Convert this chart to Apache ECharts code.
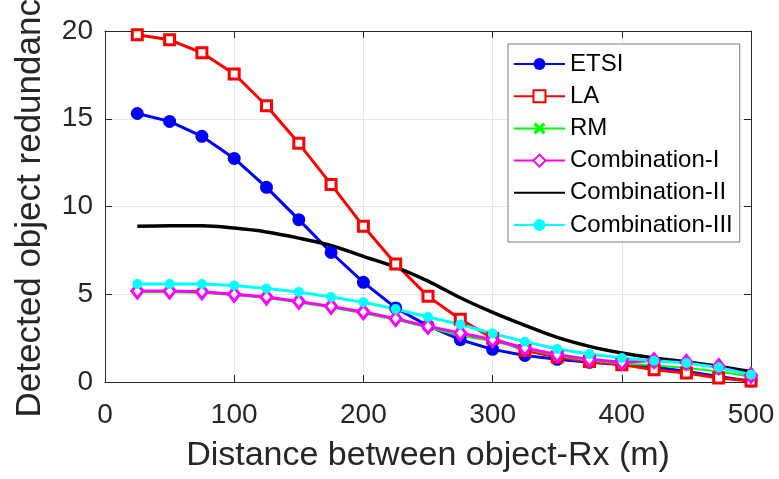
<!DOCTYPE html>
<html>
<head>
<meta charset="utf-8">
<script src="https://cdn.jsdelivr.net/npm/echarts@6/dist/echarts.min.js"></script>
<style>html,body{margin:0;padding:0;background:#fff;}#c{width:779px;height:479px;}</style>
</head>
<body>
<div id="c"></div>
<script>
var distances = [25, 50, 75, 100, 125, 150, 175, 200, 225, 250, 275, 300, 325, 350, 375, 400, 425, 450, 475, 500];
var etsi   = [15.3, 14.85, 14.0, 12.74, 11.09, 9.25, 7.38, 5.68, 4.22, 3.2, 2.41, 1.86, 1.51, 1.29, 1.12, 1.0, 0.85, 0.6, 0.32, 0.05];
var la     = [19.79, 19.5, 18.76, 17.55, 15.74, 13.6, 11.26, 8.87, 6.72, 4.88, 3.58, 2.5, 1.8, 1.42, 1.17, 0.99, 0.7, 0.51, 0.23, 0.06];
var rm     = [5.12, 5.12, 5.08, 4.95, 4.78, 4.53, 4.25, 3.92, 3.55, 3.1, 2.64, 2.33, 1.88, 1.5, 1.22, 1.05, 0.95, 0.8, 0.6, 0.3];
var comb1  = [5.18, 5.18, 5.14, 5.0, 4.84, 4.59, 4.31, 3.99, 3.61, 3.17, 2.79, 2.41, 1.94, 1.56, 1.29, 1.12, 1.22, 1.12, 0.88, 0.38];
var comb2  = [8.87, 8.9, 8.9, 8.77, 8.55, 8.2, 7.78, 7.16, 6.55, 5.75, 4.8, 3.97, 3.23, 2.54, 2.03, 1.65, 1.37, 1.14, 0.89, 0.6];
var comb3  = [5.58, 5.58, 5.58, 5.5, 5.33, 5.13, 4.84, 4.54, 4.16, 3.7, 3.28, 2.76, 2.3, 1.88, 1.6, 1.37, 1.21, 1.08, 0.83, 0.42];
var seriesNames = ['ETSI', 'LA', 'RM', 'Combination-I', 'Combination-II', 'Combination-III'];
var xTicks = [0, 100, 200, 300, 400, 500];
var yTicks = [0, 5, 10, 15, 20];

function pairs(ys) { return distances.map(function (x, i) { return [x, ys[i]]; }); }

var FONT = '"Liberation Sans", Arial, Helvetica, sans-serif';
var TXT = '#262626';
var crossPath = 'path://M2,0 L5,3 L8,0 L10,2 L7,5 L10,8 L8,10 L5,7 L2,10 L0,8 L3,5 L0,2 Z';

var chart = echarts.init(document.getElementById('c'), null, {renderer: 'canvas'});
chart.setOption({
  animation: false,
  backgroundColor: '#ffffff',
  textStyle: {fontFamily: FONT},
  grid: {left: 105, right: 28, top: 31, bottom: 97, containLabel: false, outerBoundsMode: 'none'},
  legend: {
    orient: 'vertical',
    left: 508, top: 44,
    padding: [8, 7, 5, 5],
    itemWidth: 51, itemHeight: 15, itemGap: 8.2,
    borderColor: '#7a7a7a', borderWidth: 1, backgroundColor: '#ffffff',
    textStyle: {fontSize: 24, color: '#000', fontFamily: FONT, lineHeight: 24},
    data: [
      {name: seriesNames[0]},
      {name: seriesNames[1]},
      {name: seriesNames[2]},
      {name: seriesNames[3]},
      {name: seriesNames[4], itemStyle: {opacity: 0}},
      {name: seriesNames[5]}
    ]
  },
  xAxis: [{
    type: 'value', min: 0, max: 500, interval: 100,
    name: 'Distance between object-Rx (m)', nameLocation: 'middle', nameGap: 57,
    nameTextStyle: {fontSize: 34, color: TXT, fontFamily: FONT},
    axisLine: {show: true, lineStyle: {color: TXT, width: 1}},
    axisTick: {show: true, inside: true, length: 7, lineStyle: {color: TXT}},
    axisLabel: {fontSize: 28, color: TXT, margin: 19, fontFamily: FONT},
    splitLine: {show: true, lineStyle: {color: '#e6e6e6', width: 1}}
  }, {
    type: 'value', min: 0, max: 500, interval: 100, position: 'top',
    axisLine: {show: true, onZero: false, lineStyle: {color: TXT, width: 1}},
    axisTick: {show: true, inside: true, length: 7, lineStyle: {color: TXT}},
    axisLabel: {show: false}, splitLine: {show: false}
  }],
  yAxis: [{
    type: 'value', min: 0, max: 20, interval: 5,
    name: 'Detected object redundancy', nameLocation: 'middle', nameGap: 57,
    nameTextStyle: {fontSize: 35, color: TXT, fontFamily: FONT, padding: [0, 0, 0, 14]},
    axisLine: {show: true, lineStyle: {color: TXT, width: 1}},
    axisTick: {show: true, inside: true, length: 7, lineStyle: {color: TXT}},
    axisLabel: {fontSize: 28, color: TXT, margin: 12, fontFamily: FONT},
    splitLine: {show: true, lineStyle: {color: '#e6e6e6', width: 1}}
  }, {
    type: 'value', min: 0, max: 20, interval: 5, position: 'right',
    axisLine: {show: true, onZero: false, lineStyle: {color: TXT, width: 1}},
    axisTick: {show: true, inside: true, length: 7, lineStyle: {color: TXT}},
    axisLabel: {show: false}, splitLine: {show: false}
  }],
  series: [
    {name: seriesNames[0], type: 'line', data: pairs(etsi),
     symbol: 'circle', symbolSize: 13,
     lineStyle: {color: '#0000ff', width: 3}, itemStyle: {color: '#0000ff'}},
    {name: seriesNames[1], type: 'line', data: pairs(la),
     symbol: 'rect', symbolSize: 10,
     lineStyle: {color: '#ff0000', width: 3}, itemStyle: {color: '#ffffff', borderColor: '#ff0000', borderWidth: 3}},
    {name: seriesNames[2], type: 'line', data: pairs(rm),
     symbol: crossPath, symbolSize: 7,
     lineStyle: {color: '#00ff00', width: 2}, itemStyle: {color: '#00ff00'}},
    {name: seriesNames[3], type: 'line', data: pairs(comb1),
     symbol: 'diamond', symbolSize: [11, 14],
     lineStyle: {color: '#ff00ff', width: 3}, itemStyle: {color: '#ffffff', borderColor: '#ff00ff', borderWidth: 3}},
    {name: seriesNames[4], type: 'line', data: pairs(comb2),
     symbol: 'none', smooth: 0.3,
     lineStyle: {color: '#000000', width: 3.5}, itemStyle: {color: '#000000'}},
    {name: seriesNames[5], type: 'line', data: pairs(comb3),
     symbol: 'circle', symbolSize: 10,
     lineStyle: {color: '#00ffff', width: 3}, itemStyle: {color: '#00ffff'}}
  ]
});
</script>
</body>
</html>
